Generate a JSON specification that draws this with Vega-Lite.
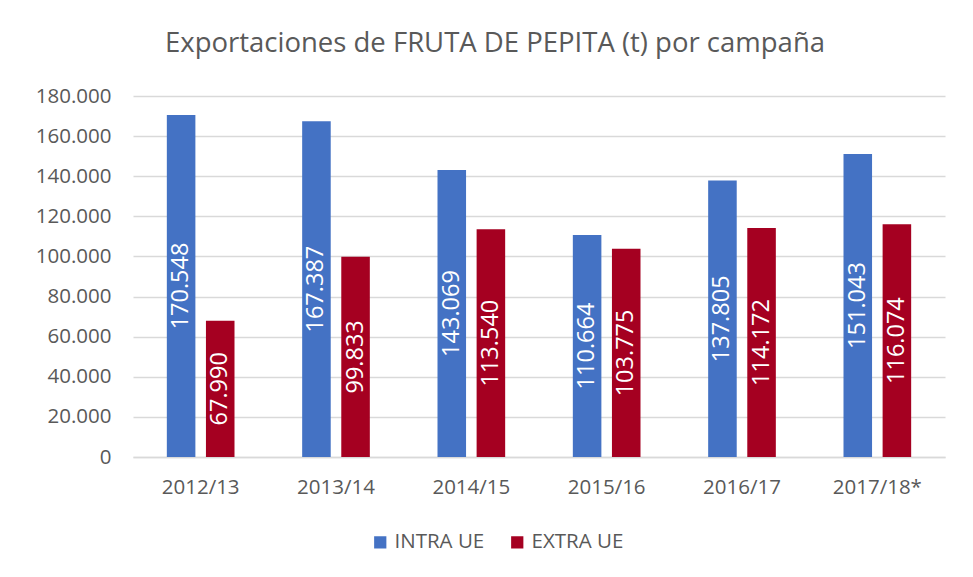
{
  "$schema": "https://vega.github.io/schema/vega-lite/v6.json",
  "autosize": "none",
  "width": 812,
  "height": 361,
  "padding": {"left": 133, "top": 96, "right": 28, "bottom": 120},
  "background": "white",
  "config": {
    "locale": {"number": {"decimal": ",", "thousands": ".", "grouping": [3], "currency": ["", " €"]}},
    "font": "Open Sans",
    "view": {"stroke": null}
  },
  "title": {
    "text": "Exportaciones de FRUTA DE PEPITA (t) por campaña",
    "fontSize": 27.5,
    "font": "Open Sans",
    "fontWeight": "normal",
    "color": "#595959",
    "anchor": "middle",
    "dx": -44,
    "offset": 29
  },
  "data": {
    "values": [
      {"campana": "2012/13", "serie": "INTRA UE", "valor": 170548},
      {"campana": "2012/13", "serie": "EXTRA UE", "valor": 67990},
      {"campana": "2013/14", "serie": "INTRA UE", "valor": 167387},
      {"campana": "2013/14", "serie": "EXTRA UE", "valor": 99833},
      {"campana": "2014/15", "serie": "INTRA UE", "valor": 143069},
      {"campana": "2014/15", "serie": "EXTRA UE", "valor": 113540},
      {"campana": "2015/16", "serie": "INTRA UE", "valor": 110664},
      {"campana": "2015/16", "serie": "EXTRA UE", "valor": 103775},
      {"campana": "2016/17", "serie": "INTRA UE", "valor": 137805},
      {"campana": "2016/17", "serie": "EXTRA UE", "valor": 114172},
      {"campana": "2017/18*", "serie": "INTRA UE", "valor": 151043},
      {"campana": "2017/18*", "serie": "EXTRA UE", "valor": 116074}
    ]
  },
  "transform": [{"calculate": "datum.valor / 2", "as": "mitad"}],
  "encoding": {
    "x": {
      "field": "campana",
      "type": "nominal",
      "sort": null,
      "title": null,
      "scale": {"paddingInner": 0.5, "paddingOuter": 0.25},
      "axis": {
        "labelAngle": 0,
        "labelFontSize": 20.5,
        "labelColor": "#595959",
        "labelPadding": 20,
        "ticks": false,
        "domainColor": "#D9D9D9",
        "domainWidth": 1.5
      }
    },
    "xOffset": {
      "field": "serie",
      "type": "nominal",
      "sort": ["INTRA UE", "EXTRA UE"],
      "scale": {"paddingInner": 0.27, "paddingOuter": 0}
    }
  },
  "layer": [
    {
      "mark": {"type": "bar"},
      "encoding": {
        "y": {
          "field": "valor",
          "type": "quantitative",
          "title": null,
          "scale": {"domain": [0, 180000]},
          "axis": {
            "values": [0, 20000, 40000, 60000, 80000, 100000, 120000, 140000, 160000, 180000],
            "format": ",.0f",
            "labelFontSize": 20.5,
            "labelColor": "#595959",
            "labelPadding": 22,
            "ticks": false,
            "domain": false,
            "gridColor": "#D9D9D9",
            "gridWidth": 1.5
          }
        },
        "color": {
          "field": "serie",
          "type": "nominal",
          "sort": ["INTRA UE", "EXTRA UE"],
          "scale": {"domain": ["INTRA UE", "EXTRA UE"], "range": ["#4472C4", "#A50021"]},
          "legend": {
            "title": null,
            "orient": "none",
            "legendX": 237,
            "legendY": 436,
            "direction": "horizontal",
            "symbolType": "square",
            "symbolSize": 150,
            "symbolStrokeWidth": 0,
            "labelFontSize": 20.5,
            "labelColor": "#595959",
            "columnPadding": 22
          }
        }
      }
    },
    {
      "mark": {"type": "text", "angle": 270, "color": "white", "fontSize": 23.5, "baseline": "middle", "align": "center"},
      "encoding": {
        "y": {"field": "mitad", "type": "quantitative"},
        "text": {"field": "valor", "type": "quantitative", "format": ",.0f"}
      }
    }
  ]
}
